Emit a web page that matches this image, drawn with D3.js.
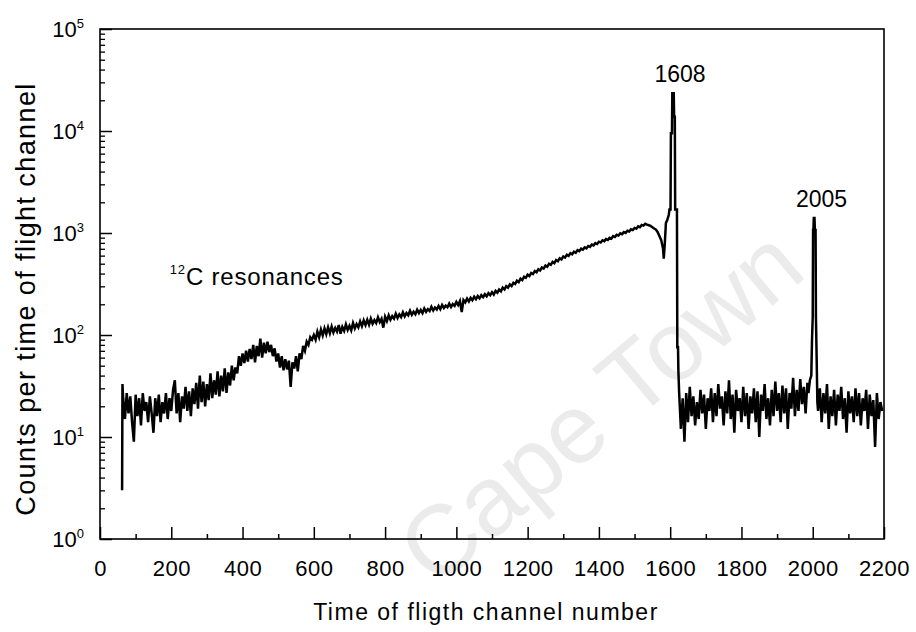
<!DOCTYPE html>
<html>
<head>
<meta charset="utf-8">
<script src="https://cdn.jsdelivr.net/npm/d3@7"></script>
<style>
  body { margin: 0; background: #fff; }
  text { font-family: "Liberation Sans", Arial, sans-serif; fill: #000; }
</style>
</head>
<body>
<div id="svgPlot"></div>
<script>
// counts per channel
const startSpike = [[62, 3], [63, 33]];

// 65 .. 595, every 5 channels
const lowStart = 65;
const lowCounts = [
  24, 15, 27, 17, 25, 14, 9, 26, 16, 24,
  13, 27, 18, 22, 14, 25, 17, 11, 24, 16,
  26, 14, 22, 17, 27, 15, 24, 18, 29, 36,
  17, 27, 14, 25, 19, 31, 18, 28, 16, 30,
  21, 34, 19, 40, 22, 35, 20, 33, 23, 42,
  24, 36, 26, 44, 25, 40, 28, 47, 27, 43,
  32, 50, 36, 48, 42, 62, 50, 66, 53, 70,
  55, 73, 58, 80, 54, 78, 62, 92, 60, 84,
  66, 86, 68, 80, 62, 74, 55, 66, 48, 62,
  45, 58, 46, 56, 31, 54, 47, 62, 44, 66,
  58, 78, 70, 86, 80, 95, 90
];

// 600 .. 1580, every 5 channels
const midStart = 600;
const midCounts = [
  100, 90, 108, 95, 113, 99, 116, 102, 119, 104,
  121, 106, 117, 108, 125, 103, 120, 110, 127, 112,
  123, 111, 131, 116, 128, 119, 136, 122, 139, 125,
  141, 126, 145, 129, 140, 131, 149, 134, 144, 118,
  151, 137, 156, 141, 153, 145, 162, 147, 159, 150,
  167, 152, 164, 156, 173, 158, 169, 160, 177, 164,
  176, 164, 182, 169, 179, 172, 189, 174, 186, 178,
  193, 179, 197, 184, 194, 187, 203, 188, 201, 193,
  211, 197, 215, 168, 220, 209, 227, 213, 231, 219,
  237, 224, 241, 229, 246, 235, 251, 239, 257, 246,
  263, 249, 271, 260, 279, 268, 291, 280, 301, 292,
  313, 302, 325, 316, 341, 330, 357, 346, 373, 364,
  391, 378, 406, 396, 423, 412, 441, 429, 459, 448,
  479, 466, 499, 487, 521, 506, 543, 529, 566, 550,
  589, 574, 611, 596, 633, 618, 656, 640, 679, 664,
  701, 686, 723, 708, 746, 732, 771, 756, 796, 780,
  821, 806, 846, 830, 871, 856, 899, 882, 931, 913,
  961, 944, 991, 973, 1021, 1003, 1051, 1034, 1086, 1068,
  1121, 1103, 1161, 1140, 1201, 1183, 1231, 1208, 1191, 1173,
  1141, 1108, 1081, 1018, 931, 848, 700
];

const peak1608 = [
  [1582, 560], [1585, 800], [1588, 1250], [1592, 1350], [1596, 1500],
  [1598, 1700], [1601, 1700], [1602, 9500], [1605, 9500], [1606, 23500],
  [1610, 23500], [1611, 13800], [1613, 13800], [1614, 1700], [1619, 1700],
  [1620, 76], [1622, 76], [1623, 45]
];

// 1625 .. 1985, every 5 channels
const flatStart = 1625;
const flatCounts = [
  28, 12, 24, 9, 27, 14, 31, 16, 25, 13,
  22, 15, 29, 17, 26, 12, 24, 18, 30, 14,
  27, 16, 33, 19, 25, 13, 28, 17, 36, 15,
  26, 11, 29, 18, 24, 14, 31, 16, 27, 12,
  25, 17, 30, 14, 28, 10, 26, 18, 33, 15,
  24, 13, 29, 16, 35, 18, 27, 14, 32, 17,
  30, 12, 27, 19, 38, 16, 29, 18, 37, 21,
  31, 17, 34
];

const peak2005 = [
  [1988, 27], [1992, 36], [1996, 40], [1998, 90], [2000, 150],
  [2001, 1070], [2002, 1070], [2003, 1400], [2005, 1400], [2006, 1070],
  [2008, 1070], [2009, 150], [2011, 60], [2013, 22]
];

// 2015 .. 2195, every 5 channels
const tailStart = 2015;
const tailCounts = [
  18, 30, 14, 27, 17, 33, 12, 25, 16, 29,
  13, 26, 18, 31, 15, 24, 11, 28, 17, 25,
  14, 30, 16, 27, 13, 24, 18, 29, 12, 26,
  16, 23, 8, 27, 15, 22, 18
];

const xTickValues = d3.range(0, 2201, 200);
const xMinorValues = d3.range(100, 2200, 200);
const yDecades = [1, 10, 100, 1000, 10000, 100000];
const peakNames = [
  { ch: 1608, top: 23500, label: "1608" },
  { ch: 2005, top: 1400, label: "2005" }
];

function spread(start, counts) {
  return counts.map((c, i) => [start + 5 * i, c]);
}

let spectrum = [].concat(
  startSpike,
  spread(lowStart, lowCounts),
  spread(midStart, midCounts),
  peak1608,
  spread(flatStart, flatCounts),
  peak2005,
  spread(tailStart, tailCounts)
);

let margin = { top: 29, right: 32, bottom: 93, left: 100 },
  width = 916 - margin.left - margin.right,
  height = 632 - margin.top - margin.bottom;

let root = d3.select("#svgPlot")
  .append("svg")
  .attr("width", 916)
  .attr("height", 632);

// faint watermark behind everything
root.append("text")
  .attr("transform", "translate(622,432) rotate(-40)")
  .attr("text-anchor", "middle")
  .style("font-size", "98px")
  .style("fill", "#ebebeb")
  .text("Cape Town");

let svg = root.append("g")
  .attr("transform", "translate(" + margin.left + "," + margin.top + ")");

let x = d3.scaleLinear().domain([0, 2200]).range([0, width]);
let y = d3.scaleLog().domain([1, 1e5]).range([height, 0]);

svg.append("defs").append("clipPath")
  .attr("id", "clip")
  .append("rect")
  .attr("width", width)
  .attr("height", height);

// spectrum line
svg.append("path")
  .datum(spectrum)
  .attr("clip-path", "url(#clip)")
  .attr("fill", "none")
  .attr("stroke", "#000")
  .attr("stroke-width", 2.5)
  .attr("stroke-linejoin", "miter")
  .attr("d", d3.line().x(d => x(d[0])).y(d => y(d[1])));

// frame
svg.append("rect")
  .attr("width", width)
  .attr("height", height)
  .attr("fill", "none")
  .attr("stroke", "#000")
  .attr("stroke-width", 1.6);

// x axis, ticks pointing in
let xAxis = svg.append("g")
  .attr("transform", "translate(0," + height + ")")
  .call(d3.axisBottom(x).tickValues(xTickValues).tickSizeInner(-12).tickSizeOuter(0).tickPadding(21).tickFormat(d3.format("d")));
xAxis.select(".domain").remove();
xAxis.selectAll("line").attr("stroke-width", 1.5);
xAxis.selectAll("text").style("font-size", "22px").style("letter-spacing", "0.5px");

svg.append("g")
  .attr("transform", "translate(0," + height + ")")
  .call(d3.axisBottom(x).tickValues(xMinorValues).tickSize(-5).tickFormat(""))
  .call(g => g.select(".domain").remove())
  .selectAll("line").attr("stroke-width", 1.5);

// y axis, log decades
let yMinor = [];
yDecades.slice(0, -1).forEach(d => {
  for (let k = 2; k < 10; k++) yMinor.push(d * k);
});

svg.append("g")
  .call(d3.axisLeft(y).tickValues(yDecades).tickSize(-12).tickFormat(""))
  .call(g => g.select(".domain").remove())
  .selectAll("line").attr("stroke-width", 1.5);

svg.append("g")
  .call(d3.axisLeft(y).tickValues(yMinor).tickSize(-5).tickFormat(""))
  .call(g => g.select(".domain").remove())
  .selectAll("line").attr("stroke-width", 1.3);

let yLabels = svg.append("g")
  .selectAll("text")
  .data(yDecades)
  .enter()
  .append("text")
  .attr("text-anchor", "end")
  .attr("x", -16)
  .attr("y", d => y(d) + 8)
  .style("font-size", "22px");
yLabels.append("tspan").text("10");
yLabels.append("tspan")
  .attr("dy", -9)
  .style("font-size", "13px")
  .text(d => Math.round(Math.log10(d)));

// axis titles
svg.append("text")
  .attr("text-anchor", "middle")
  .attr("x", width / 2 - 6)
  .attr("y", height + 81)
  .style("font-size", "23px")
  .style("letter-spacing", "1.5px")
  .text("Time of fligth channel number");

svg.append("text")
  .attr("text-anchor", "middle")
  .attr("transform", "rotate(-90)")
  .attr("x", -270)
  .attr("y", -65)
  .style("font-size", "27px")
  .style("letter-spacing", "1.4px")
  .text("Counts per time of flight channel");

// peak labels
svg.selectAll(".peak")
  .data(peakNames)
  .enter()
  .append("text")
  .attr("class", "peak")
  .attr("text-anchor", "middle")
  .attr("x", d => x(d.ch) + 7)
  .attr("y", d => y(d.top) - 11)
  .style("font-size", "23px")
  .text(d => d.label);

// resonance note
let note = svg.append("text")
  .attr("x", x(196))
  .attr("y", y(310))
  .style("font-size", "24px")
  .style("letter-spacing", "0.8px");
note.append("tspan").style("font-size", "13px").attr("dy", -11).text("12");
note.append("tspan").attr("dy", 11).text("C resonances");
</script>
</body>
</html>
